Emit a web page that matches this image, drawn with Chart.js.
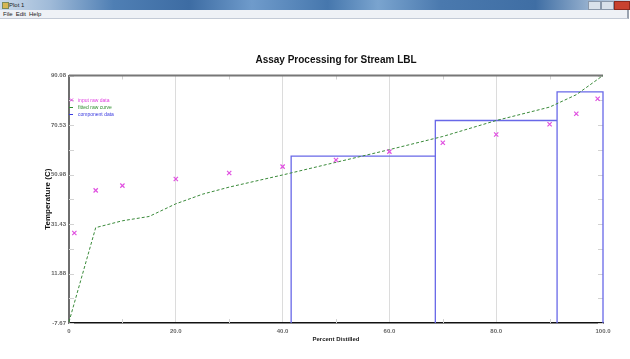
<!DOCTYPE html>
<html>
<head>
<meta charset="utf-8">
<script src="https://cdn.jsdelivr.net/npm/chart.js@4.4.1/dist/chart.umd.min.js"></script>
<style>
body{margin:0;background:#fff;overflow:hidden;font-family:"Liberation Sans",Arial,sans-serif}
#wrap{position:relative;width:630px;height:359px}
canvas{position:absolute;left:0;top:0}
#bar{position:absolute;left:0;top:0;width:630px;height:10px;z-index:2;
  background:linear-gradient(90deg,#c9d9ea 0,#9fbad8 8%,#4f7fb4 18%,#3d6ca3 30%,#6f9bcb 40%,#4677ad 52%,#7aa4cf 60%,#4a79ae 70%,#3f6ea4 85%,#a5bcd6 95%,#c9d6e4 100%)}
#bar span{position:absolute;left:9px;top:1px;font-size:6px;line-height:8px;color:#222}
#bar i{position:absolute;left:2px;top:2px;width:5px;height:5px;background:#d7b651;border:1px solid #7a8a5a}
#btns{position:absolute;right:0;top:0;height:9px;width:42px}
#btns b{position:absolute;top:1px;height:7px;border:1px solid #8a98aa;background:#d9e1ea}
#close{background:#c8422f!important;border-color:#8c2a1e!important}
#menu{position:absolute;left:0;top:10px;width:627px;height:8px;z-index:2;background:#eef1f6;border-bottom:1px solid #c3cad6;border-right:2px solid #9aa3b0;font-size:6px;line-height:8px;color:#222}
#menu span{margin-left:3px}
</style>
</head>
<body>
<div id="wrap">
  <canvas id="plot" width="630" height="359"></canvas>
  <div id="bar"><i></i><span>Plot 1</span>
    <div id="btns"><b style="left:0;width:11px"></b><b style="left:13px;width:11px"></b><b id="close" style="left:26px;width:14px"></b></div>
  </div>
  <div id="menu"><span>File</span><span>Edit</span><span>Help</span></div>
</div>
<script>
// raw assay points
const rawX = [1, 5, 10, 20, 30, 40, 50, 60, 70, 80, 90, 95, 99];
const rawT = [27.9, 44.7, 46.6, 49.2, 51.6, 54.1, 56.7, 60.0, 63.5, 66.8, 70.8, 75.0, 80.9];

// fitted distillation curve
const curveX = [0, 5, 10, 15, 20, 25, 30, 40, 50, 60, 70, 80, 90, 95, 100];
const curveT = [-7.2, 30.0, 32.7, 34.4, 39.4, 43.2, 46.0, 50.8, 55.8, 60.8, 66.0, 72.3, 77.6, 82.5, 90.08];

// component cuts: boundaries and temperatures
const compEdges = [41.6, 68.6, 91.4, 100];
const compT = [58.2, 72.3, 83.6];

const xTicks = [0, 20, 40, 60, 80, 100];
const xLabels = ["0", "20.0", "40.0", "60.0", "80.0", "100.0"];
const yTicks = [-7.67, 11.88, 31.43, 50.98, 70.53, 90.08];

const yMin = yTicks[0];
const yMax = yTicks[yTicks.length - 1];

const rawPts = rawX.map((x, i) => ({ x: x, y: rawT[i] }));
const curvePts = curveX.map((x, i) => ({ x: x, y: curveT[i] }));
const compPts = [];
compT.forEach((t, i) => {
  compPts.push({ x: compEdges[i], y: yMin });
  compPts.push({ x: compEdges[i], y: t });
  compPts.push({ x: compEdges[i + 1], y: t });
  compPts.push({ x: compEdges[i + 1], y: yMin });
});

Chart.defaults.font.family = '"Liberation Sans", Arial, sans-serif';

// top border + small inner tick marks
const frame = {
  id: "frame",
  beforeDatasetsDraw(chart) {
    const { ctx, chartArea: a, scales } = chart;
    const x = scales.x, y = scales.y;
    const seg = (x1, y1, x2, y2) => { ctx.beginPath(); ctx.moveTo(x1, y1); ctx.lineTo(x2, y2); ctx.stroke(); };
    ctx.save();
    ctx.lineWidth = 1;
    ctx.strokeStyle = "#d2d2d2";
    for (let i = 0; i < xTicks.length - 1; i++) {
      const px = Math.round(x.getPixelForValue((xTicks[i] + xTicks[i + 1]) / 2)) + 0.5;
      seg(px, a.top, px, a.top + 4);
      seg(px, a.bottom - 4, px, a.bottom);
    }
    const yAll = [];
    for (let i = 0; i < yTicks.length; i++) {
      yAll.push(yTicks[i]);
      if (i < yTicks.length - 1) yAll.push((yTicks[i] + yTicks[i + 1]) / 2);
    }
    yAll.forEach(v => {
      const py = Math.round(y.getPixelForValue(v)) + 0.5;
      seg(a.left, py, a.left + 5, py);
      seg(a.right - 5, py, a.right, py);
    });
    ctx.strokeStyle = "#777";
    ctx.lineWidth = 2;
    seg(a.left, a.top, a.right, a.top);
    ctx.restore();
  }
};

// little legend in the upper left corner
const keyBox = {
  id: "keyBox",
  afterDatasetsDraw(chart) {
    const { ctx, chartArea: a } = chart;
    const rows = [
      { text: "input raw data", color: "#e040e0", mark: "x" },
      { text: "fitted raw curve", color: "#2f8f2f", mark: "-" },
      { text: "component data", color: "#3a3ae0", mark: "-" }
    ];
    ctx.save();
    ctx.font = "5px 'Liberation Sans', Arial, sans-serif";
    ctx.textBaseline = "middle";
    rows.forEach((r, i) => {
      const yy = a.top + 25 + i * 7;
      ctx.strokeStyle = r.color;
      ctx.fillStyle = r.color;
      ctx.lineWidth = 1;
      ctx.beginPath();
      if (r.mark === "x") {
        ctx.moveTo(a.left + 1, yy - 2); ctx.lineTo(a.left + 4, yy + 1);
        ctx.moveTo(a.left + 4, yy - 2); ctx.lineTo(a.left + 1, yy + 1);
      } else {
        ctx.moveTo(a.left, yy); ctx.lineTo(a.left + 4, yy);
      }
      ctx.stroke();
      ctx.fillText(r.text, a.left + 9, yy);
    });
    ctx.restore();
  }
};

new Chart(document.getElementById("plot"), {
  type: "scatter",
  data: {
    datasets: [
      {
        label: "input raw data",
        data: rawPts,
        showLine: false,
        pointStyle: "crossRot",
        pointRadius: 3,
        borderColor: "#e050e0",
        pointBorderColor: "#e050e0",
        pointBackgroundColor: "#e050e0",
        pointBorderWidth: 1.2,
        borderWidth: 1.2,
        clip: false
      },
      {
        label: "fitted raw curve",
        data: curvePts,
        showLine: true,
        borderColor: "#3a8a3a",
        borderWidth: 1,
        borderDash: [3, 2],
        pointRadius: 0,
        clip: false
      },
      {
        label: "component data",
        data: compPts,
        showLine: true,
        borderColor: "#6868e8",
        borderWidth: 1.3,
        pointRadius: 0,
        clip: false
      }
    ]
  },
  options: {
    responsive: false,
    animation: false,
    layout: { padding: { top: 20, right: 27, bottom: 0, left: 0 } },
    scales: {
      x: {
        type: "linear",
        min: 0,
        max: 100,
        afterBuildTicks: s => { s.ticks = xTicks.map(v => ({ value: v })); },
        afterFit: s => { s.height = 36; },
        ticks: {
          callback: (v, i) => xLabels[i],
          font: { size: 6, weight: "bold" },
          color: "#666",
          padding: 5,
          maxRotation: 0,
          autoSkip: false
        },
        grid: {
          color: c => (c.tick && c.tick.value > 0 && c.tick.value < 100) ? "#dcdcdc" : "rgba(0,0,0,0)",
          drawTicks: false
        },
        border: { color: "#111", width: 1.5 },
        title: {
          display: true,
          text: "Percent Distilled",
          font: { size: 6, weight: "bold" },
          color: "#222",
          padding: { top: 0, bottom: 16 }
        }
      },
      y: {
        type: "linear",
        min: yMin,
        max: yMax,
        afterBuildTicks: s => { s.ticks = yTicks.map(v => ({ value: v })); },
        afterFit: s => { s.width = 69; },
        ticks: {
          callback: v => v.toFixed(2),
          font: { size: 6, weight: "bold" },
          color: "#666",
          padding: 3
        },
        grid: { display: false, drawTicks: false },
        border: { color: "#6e6e6e", width: 2 },
        title: {
          display: true,
          text: "Temperature (C)",
          font: { size: 8, weight: "bold" },
          color: "#111",
          padding: { top: 43, bottom: 0 }
        }
      }
    },
    plugins: {
      legend: { display: false },
      tooltip: { enabled: false },
      title: {
        display: true,
        text: "Assay Processing for Stream LBL",
        fullSize: false,
        font: { size: 10, weight: "bold" },
        color: "#111",
        padding: { top: 34, bottom: 9.5 }
      }
    }
  },
  plugins: [frame, keyBox]
});
</script>
</body>
</html>
